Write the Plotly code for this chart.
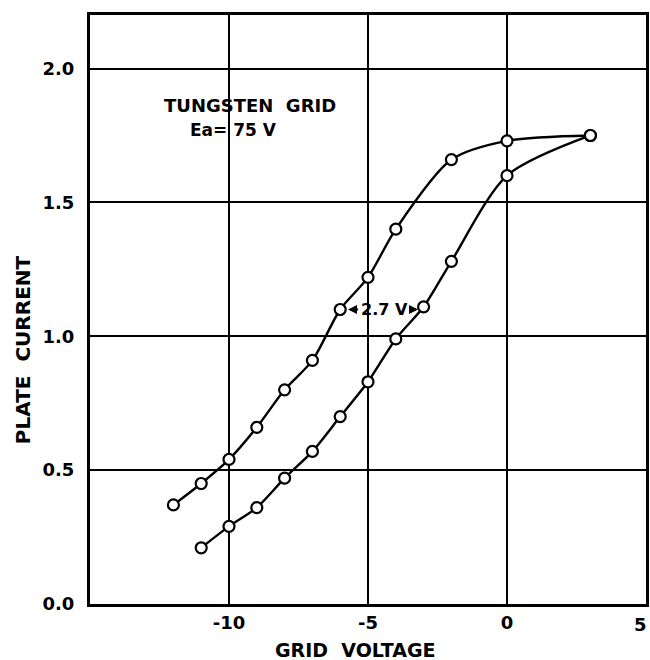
import plotly.graph_objects as go

# Plate current vs grid voltage, tungsten grid, Ea = 75 V (hysteresis loop)
upper_v = [-12, -11, -10, -9, -8, -7, -6, -5, -4, -2, 0, 3]
upper_i = [0.37, 0.45, 0.54, 0.66, 0.80, 0.91, 1.10, 1.22, 1.40, 1.66, 1.73, 1.75]

lower_v = [-11, -10, -9, -8, -7, -6, -5, -4, -3, -2, 0, 3]
lower_i = [0.21, 0.29, 0.36, 0.47, 0.57, 0.70, 0.83, 0.99, 1.11, 1.28, 1.60, 1.75]

x_ticks = [-10, -5, 0, 5]
x_tick_text = ["-10", "-5", "0", ""]   # the "5" at the right edge is placed separately
x_edge_label = "5"
y_ticks = [0.0, 0.5, 1.0, 1.5, 2.0]
y_tick_text = ["0.0", "0.5", "1.0", "1.5", "2.0"]

FONT = "DejaVu Sans, sans-serif"

fig = go.Figure()

for vs, cur in ((upper_v, upper_i), (lower_v, lower_i)):
    fig.add_trace(go.Scatter(
        x=vs, y=cur, mode="lines+markers",
        line=dict(color="black", width=2.4, shape="spline", smoothing=0.8),
        marker=dict(symbol="circle", size=11, color="white",
                    line=dict(color="black", width=2.2)),
        showlegend=False, hoverinfo="skip",
    ))

axis_common = dict(
    showline=True, mirror=True, linecolor="black", linewidth=3,
    showgrid=True, gridcolor="black", gridwidth=2,
    zeroline=False, ticks="", automargin=False,
    tickfont=dict(family=FONT, size=18, color="black", weight="bold"),
)

fig.update_xaxes(range=[-15, 5], tickvals=x_ticks, ticktext=x_tick_text,
                 ticklabelstandoff=0, **axis_common)
fig.update_yaxes(range=[0, 2.2], tickvals=y_ticks, ticktext=y_tick_text,
                 ticklabelstandoff=9, **axis_common)


def bold(size):
    return dict(family=FONT, size=size, color="black", weight="bold")


annotations = [
    dict(text="TUNGSTEN  GRID", x=0.1295, y=0.847, xref="paper", yref="paper",
         xanchor="left", yanchor="middle", showarrow=False, font=bold(18)),
    dict(text="Ea= 75 V", x=0.1763, y=0.805, xref="paper", yref="paper",
         xanchor="left", yanchor="middle", showarrow=False, font=bold(17)),
    dict(text="2.7 V", x=-4.4, y=1.10, xref="x", yref="y",
         showarrow=False, font=bold(16)),
    dict(x=-5.72, y=1.10, ax=-5.3, ay=1.10, xref="x", yref="y",
         axref="x", ayref="y", text="", showarrow=True,
         arrowhead=2, arrowsize=1, arrowwidth=1.8, arrowcolor="black"),
    dict(x=-3.2, y=1.10, ax=-3.55, ay=1.10, xref="x", yref="y",
         axref="x", ayref="y", text="", showarrow=True,
         arrowhead=2, arrowsize=1, arrowwidth=1.8, arrowcolor="black"),
    dict(text=x_edge_label, x=1.006, y=-0.034, xref="paper", yref="paper",
         xanchor="right", yanchor="middle", showarrow=False, font=bold(18)),
    dict(text="GRID  VOLTAGE", x=0.477, y=-0.078, xref="paper", yref="paper",
         xanchor="center", yanchor="middle", showarrow=False, font=bold(19)),
    dict(text="PLATE  CURRENT", x=-0.1205, y=0.431, xref="paper", yref="paper",
         xanchor="center", yanchor="middle", textangle=-90, showarrow=False,
         font=bold(20)),
]

fig.update_layout(
    width=650, height=660,
    margin=dict(l=90, r=4, t=15, b=56),
    paper_bgcolor="white", plot_bgcolor="white",
    annotations=annotations,
)

fig.write_html("out.html")
